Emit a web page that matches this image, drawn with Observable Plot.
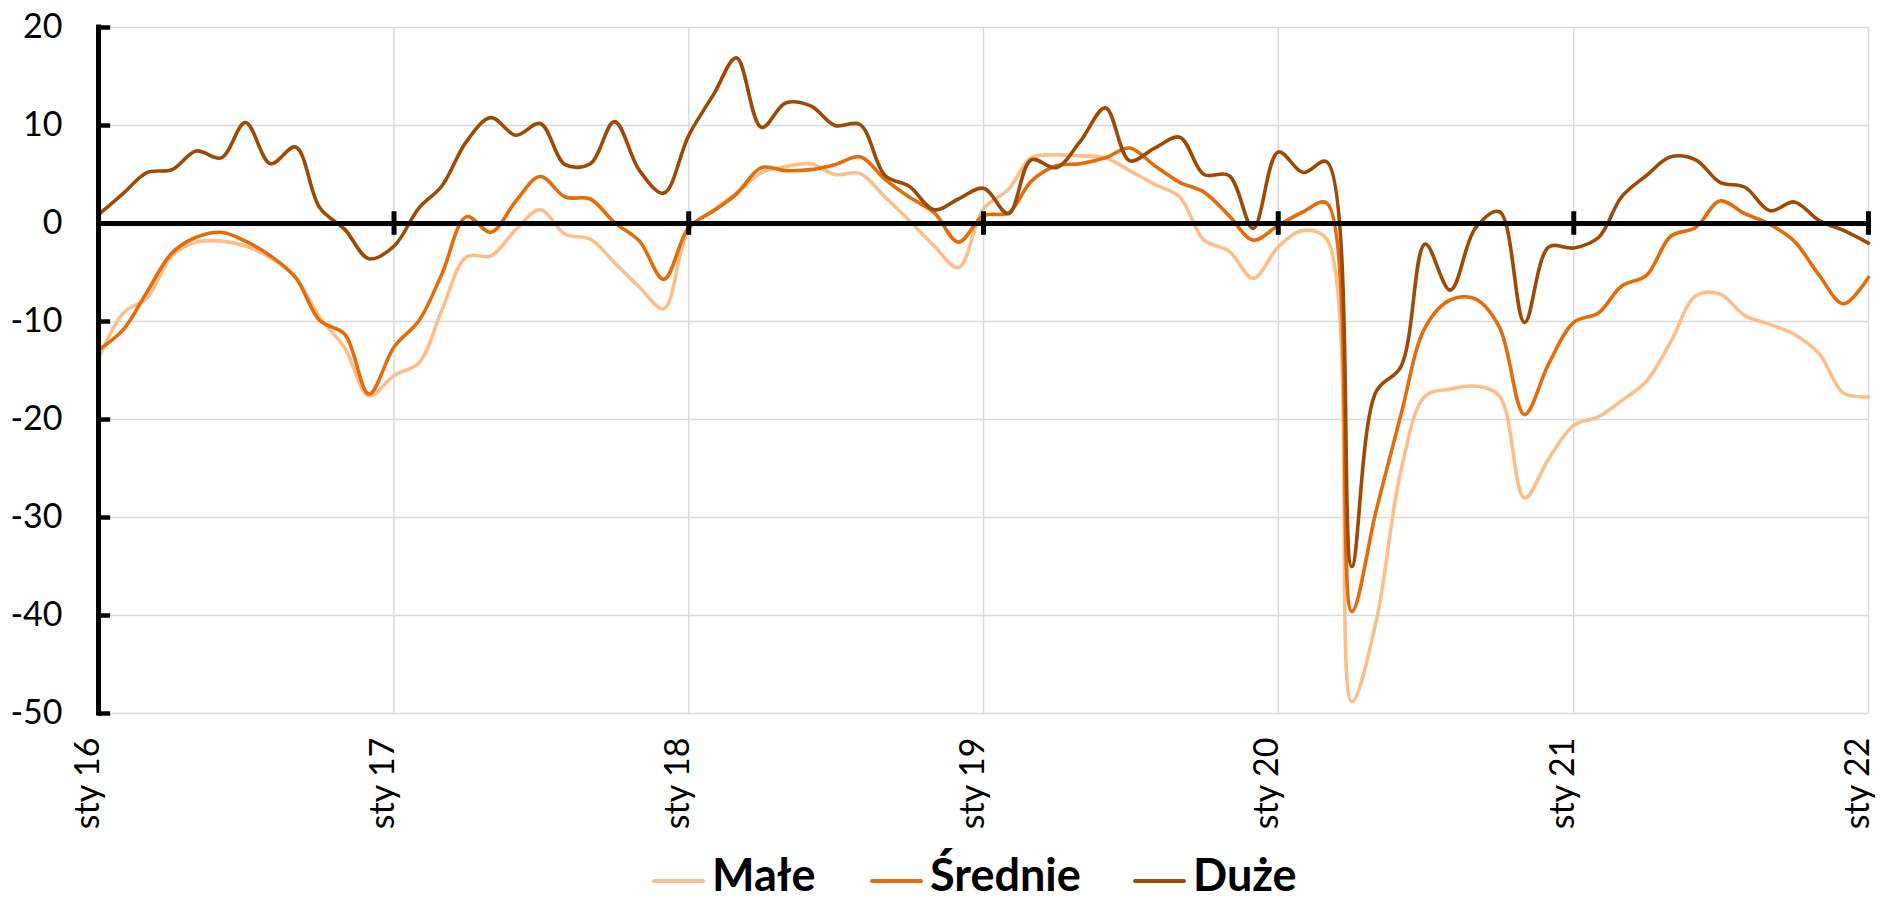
<!DOCTYPE html>
<html>
<head>
<meta charset="utf-8">
<script src="https://cdn.jsdelivr.net/npm/d3@7"></script>
<script src="https://cdn.jsdelivr.net/npm/@observablehq/plot@0.6"></script>
<style>
  html, body { margin: 0; padding: 0; background: #fff; }
  #wrap { position: relative; width: 1898px; height: 903px; overflow: hidden; font-family: Lato, "Open Sans", sans-serif; }
  .sw { position: absolute; height: 4px; width: 53px; border-radius: 2px; }
  .lt { position: absolute; font-size: 45px; font-weight: 700; line-height: 40px; color: #000; white-space: nowrap; }
</style>
</head>
<body>
<div id="wrap"></div>
<script>
// Series names and colours
const seriesNames = ["Małe", "Średnie", "Duże"];
const seriesColors = ["#FBBF8C", "#E46C0A", "#9C4A06"];

// Monthly values, Jan 2016 .. Jan 2022 (73 months)
const male = [
  -13.8, -9.1, -7.6, -3.3, -1.9, -1.8, -2.3, -3.5, -5.5, -9.6, -12.7, -17.6,
  -15.5, -14.2, -8.9, -3.4, -3.3, -0.6, 1.4, -1.1, -1.6, -4.0, -6.5, -8.7,
  -0.6, 1.4, 3.1, 5.2, 5.8, 6.1, 5.0, 5.1, 2.7, 0.3, -2.3, -4.5,
  1.5, 3.5, 6.7, 7.0, 6.9, 6.7, 5.4, 4.0, 2.7, -1.7, -2.8, -5.6,
  -2.4, -0.7, -1.6, -48.8, -40.7, -25.2, -17.6, -16.9, -16.6, -17.6, -28.0, -24.0,
  -20.6, -19.7, -18.1, -16.1, -12.1, -7.4, -7.2, -9.4, -10.3, -11.3, -13.3, -17.3,
  -17.7
];
const srednie = [
  -12.9, -10.8, -7.0, -3.0, -1.4, -0.9, -1.8, -3.3, -5.5, -9.9, -11.3, -17.4,
  -12.6, -9.9, -5.2, 0.7, -0.9, 2.3, 4.8, 2.7, 2.5, 0.1, -1.8, -5.7,
  -0.4, 1.3, 3.0, 5.7, 5.4, 5.5, 6.0, 6.8, 4.5, 2.7, 1.1, -1.9,
  0.8, 1.1, 4.3, 5.9, 6.1, 6.7, 7.7, 5.9, 4.2, 3.2, 0.8, -1.7,
  -0.2, 1.2, 2.1, -39.6, -29.4, -19.5, -10.6, -7.8, -7.7, -10.6, -19.5, -14.3,
  -10.1, -9.1, -6.4, -5.3, -1.3, -0.4, 2.3, 1.0, -0.1, -1.8, -5.3, -8.2,
  -5.5
];
const duze = [
  0.9, 3.1, 5.2, 5.5, 7.4, 6.7, 10.3, 6.1, 7.8, 1.6, -0.6, -3.6,
  -2.3, 1.6, 3.8, 8.4, 10.8, 9.0, 10.2, 6.0, 6.1, 10.4, 5.4, 3.1,
  9.0, 13.2, 16.9, 9.8, 12.3, 12.0, 10.0, 10.1, 4.9, 3.8, 1.4, 2.5,
  3.6, 1.0, 6.5, 5.7, 8.4, 11.8, 6.4, 7.7, 8.8, 5.0, 4.9, -0.5,
  7.3, 5.2, 6.3, -35.0, -17.2, -14.6, -2.1, -6.8, -0.5, 1.2, -10.1, -2.4,
  -2.5, -1.4, 2.7, 4.9, 6.8, 6.5, 4.2, 3.7, 1.3, 2.2, 0.3, -0.7,
  -2.0
];

// Axis ticks
const yTicks = [20, 10, 0, -10, -20, -30, -40, -50];
const tickYears = [2016, 2017, 2018, 2019, 2020, 2021, 2022];
const tickLabels = ["sty 16", "sty 17", "sty 18", "sty 19", "sty 20", "sty 21", "sty 22"];

const start = new Date(Date.UTC(2016, 0, 1));
const end = new Date(Date.UTC(2022, 0, 1));
const months = d3.utcMonth.range(start, d3.utcMonth.offset(end, 1));
const tickDates = tickYears.map(y => new Date(Date.UTC(y, 0, 1)));

const allSeries = [male, srednie, duze];
const lineMarks = allSeries.map((vals, s) =>
  Plot.line(months.map((d, i) => ({date: d, value: vals[i]})), {
    x: "date", y: "value",
    stroke: seriesColors[s], strokeWidth: 3.6,
    curve: "catmull-rom",
    strokeLinejoin: "round", strokeLinecap: "round"
  })
);

const chart = Plot.plot({
  width: 1898,
  height: 840,
  marginLeft: 98,
  marginRight: 30,
  marginTop: 27,
  marginBottom: 127,
  style: {fontFamily: "Lato, 'Open Sans', sans-serif", background: "white", color: "black"},
  x: {type: "utc", domain: [start, end], axis: null},
  y: {domain: [-50, 20], axis: null},
  marks: [
    Plot.gridY(yTicks, {stroke: "#d9d9d9", strokeOpacity: 1, strokeWidth: 1.4}),
    Plot.gridX(tickDates, {stroke: "#d9d9d9", strokeOpacity: 1, strokeWidth: 1.4}),
    Plot.axisY(yTicks, {tickSize: 0, tickPadding: 36, fontSize: 34, label: null, tickFormat: d => String(d), fill: "black"}),
    Plot.ruleY(yTicks, {x1: start, x2: d3.utcDay.offset(start, 15), stroke: "black", strokeWidth: 4.5}),
    ...lineMarks,
    Plot.ruleY([0], {stroke: "black", strokeWidth: 5}),
    Plot.ruleX(tickDates, {y1: -1.2, y2: 1.2, stroke: "black", strokeWidth: 5}),
    Plot.ruleX([start], {y1: -50, y2: 20, stroke: "black", strokeWidth: 5, strokeLinecap: "square"}),
    Plot.text(tickDates, {
      x: d => d, text: (d, i) => tickLabels[i],
      frameAnchor: "bottom", rotate: -90, textAnchor: "end",
      dy: 24, fontSize: 34, fill: "black"
    })
  ]
});

const wrap = document.getElementById("wrap");
wrap.appendChild(chart);

// Legend
const legendLeft = [652, 870, 1133];
seriesNames.forEach((name, i) => {
  const sw = document.createElement("div");
  sw.className = "sw";
  sw.style.left = legendLeft[i] + "px";
  sw.style.top = "879px";
  sw.style.background = seriesColors[i];
  wrap.appendChild(sw);
  const t = document.createElement("div");
  t.className = "lt";
  t.style.left = (legendLeft[i] + 60) + "px";
  t.style.top = "854px";
  t.textContent = name;
  wrap.appendChild(t);
});
</script>
</body>
</html>
